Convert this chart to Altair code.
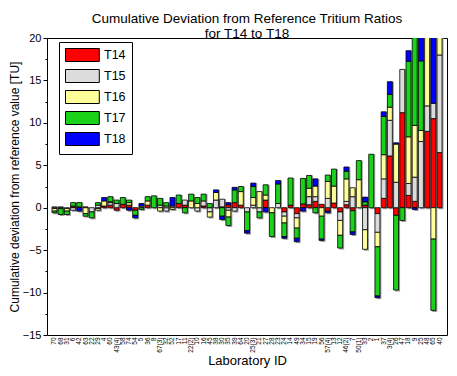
import altair as alt
import pandas as pd

labs = ["70","68","31","6","42","63","22","29","4","60",
        "43(4)","58","74","54","5","36","8","67(3)","32","52",
        "17","11","22(2)","10","16","45","38","30","35","39",
        "64","20","25(3)","21","27","28","23","24","14","49",
        "34","15","19","56","57(4)","13","12","46(2)","7","50(1)",
        "33","2","1","37","3(4)","26","47","18","9","25",
        "48","65","40"]

series = ["T14", "T15", "T16", "T17", "T18"]

t14 = [-0.1,0,0,0.1,0,0.1,0,-0.1,0.2,0.3,
       -0.3,0.4,0.3,-0.3,0,0.3,0,0,0,0,
       0.5,0.3,0,0,0.2,0,0,0.1,0.35,0.6,
       0.3,0,0,0,0.9,0,0,-0.5,0.3,-0.7,
       0.45,0.35,0.75,0.4,-0.4,0.55,-0.5,0.35,-0.35,0,
       0.3,0,-0.7,1.1,6.1,-0.9,11.2,1.45,0.75,0,
       9.0,10.5,6.5]
t15 = [0.1,0.1,-0.1,-0.3,0,0,-0.5,0.3,0,0.3,
       0.5,0,0,0,0.2,0,0,0.3,-0.4,0.2,
       0,0.6,0,-0.4,0.6,-0.5,0.9,0.9,-0.3,-0.4,
       0,-0.5,0.3,-0.5,0,0,0.5,-0.5,0,-0.5,
       0,0.95,0.55,0,1.1,0,-1.0,0.4,1.3,0,
       -2.6,0,-2.2,2.3,4.2,3.0,5.1,1.4,2.85,7.8,
       3.0,1.8,11.5]
t16 = [-0.3,-0.1,-0.3,0.1,0.1,-0.7,0,-0.2,0.6,0.1,
       0,0,0.3,0,0,0.5,0,-0.4,0.2,-0.2,
       0,0,0.8,0.5,0,-0.6,0.9,0,-0.8,0,
       1.6,0,0.9,1.9,0.6,-0.6,0,-0.8,0,-1.2,
       0,1.0,1.25,-1.0,2.0,2.0,-1.75,2.65,1.05,3.3,
       -2.3,0,-1.7,2.85,1.55,4.5,0,5.5,6.1,1.3,
       8.5,-3.7,3.0]
t17 = [-0.2,-0.7,-0.4,0.4,0.5,-0.3,-0.7,0.3,0,0.6,
       0.4,0.8,0.3,-0.6,-0.2,0.5,1.4,0.8,0.4,0,
       1.0,-0.6,0.8,0.7,0.8,0.5,0,-1.0,-1.0,1.5,
       0.6,-2.2,1.3,-0.7,1.2,-2.8,2.3,-1.6,3.2,-1.2,
       3.0,1.5,-0.6,-2.7,0.75,2.0,-1.5,0.9,-2.5,2.25,
       0.4,6.3,-5.8,4.5,1.5,-8.8,-1.5,8.9,10.5,8.2,
       0,-8.4,0]
t18 = [0,0,0,0,-0.4,0,0,0,0.4,0,
       0,0,-0.3,-0.3,0.3,0,0,0,0,1.0,
       0,0,0,0,0,0,0.3,-0.4,0.25,0.3,
       0,-0.3,0.4,0,-0.5,0,0.4,-0.2,0,-0.4,
       -0.4,0,0.85,-0.15,-0.2,0,0,0.5,-0.3,0,
       0.55,0,-0.2,0.55,1.5,0.15,0,1.25,-0.2,3.0,
       0,8.0,0]

colors = ["#ff0000", "#dcdcdc", "#ffff99", "#19d219", "#0000ff"]
y_ticks = [-15 + 2.5 * i for i in range(15)]

rows = []
shadow_rows = []
for i, lab in enumerate(labs):
    vals = [t14[i], t15[i], t16[i], t17[i], t18[i]]
    for k, (s, v) in enumerate(zip(series, vals)):
        if v != 0:
            rows.append({"lab": lab, "series": s, "value": v, "k": k})
    pos = sum(v for v in vals if v > 0)
    neg = sum(v for v in vals if v < 0)
    shadow_rows.append({"lab": lab, "pos": pos, "neg": neg})

df = pd.DataFrame(rows)
sdf = pd.DataFrame(shadow_rows)

FONT = "Liberation Sans"

xenc = alt.X("lab:N", sort=labs,
             scale=alt.Scale(paddingInner=0.2, paddingOuter=0.8),
             axis=alt.Axis(title="Laboratory ID", labelAngle=270, labelFontSize=6.5,
                           labelPadding=2, ticks=False, domain=False,
                           titleFontSize=13, titleFontWeight="normal", titlePadding=2,
                           labelFont=FONT, titleFont=FONT, labelColor="black", titleColor="black"))

yscale = alt.Scale(domain=[-15, 20], nice=False, zero=False)
yaxis = alt.Axis(title="Cumulative deviation from reference value [TU]",
                 values=y_ticks,
                 labelExpr="datum.value % 5 === 0 ? datum.label : ''",
                 tickSize={"condition": {"test": "datum.value % 5 === 0", "value": 4}, "value": 2},
                 grid=False, domain=False, labelFontSize=11, titleFontSize=12,
                 titleFontWeight="normal", titlePadding=1, labelPadding=2,
                 tickColor="black", labelColor="black", titleColor="black",
                 labelFont=FONT, titleFont=FONT)

shadow = alt.Chart(sdf).mark_bar(color="#9c9c9c", xOffset=1.5, yOffset=1.5, clip=True).encode(
    x=xenc,
    y=alt.Y("neg:Q", scale=yscale, axis=yaxis),
    y2="pos:Q",
)

bars = alt.Chart(df).mark_bar(stroke="black", strokeWidth=0.8, clip=True).encode(
    x=xenc,
    y=alt.Y("value:Q", stack="zero", scale=yscale, axis=yaxis),
    color=alt.Color("series:N", scale=alt.Scale(domain=series, range=colors),
                    legend=alt.Legend(title=None, orient="none", legendX=12, legendY=4,
                                      symbolType="M-1,-1H4.2V1H-1Z", symbolSize=169,
                                      symbolStrokeColor="black", symbolStrokeWidth=1,
                                      symbolOpacity=1,
                                      labelFontSize=12.5, labelFont=FONT, labelColor="black",
                                      labelOffset=25, rowPadding=3, padding=6,
                                      strokeColor="black", fillColor="white")),
    order=alt.Order("k:Q"),
)

chart = alt.layer(shadow, bars).properties(
    width=400, height=297,
    title=alt.TitleParams(["Cumulative Deviation from Reference Tritium Ratios", "for T14 to T18"],
                          fontSize=13.5, fontWeight="normal", font=FONT, lineHeight=14.5,
                          offset=0, dy=8, anchor="middle", color="black"),
    autosize=alt.AutoSizeParams(type="none"),
    padding={"left": 39, "top": 30, "right": 2, "bottom": 33},
).configure_view(stroke="black", strokeWidth=1)

chart.save("out.html", embed_options={"renderer": "svg", "actions": False})
